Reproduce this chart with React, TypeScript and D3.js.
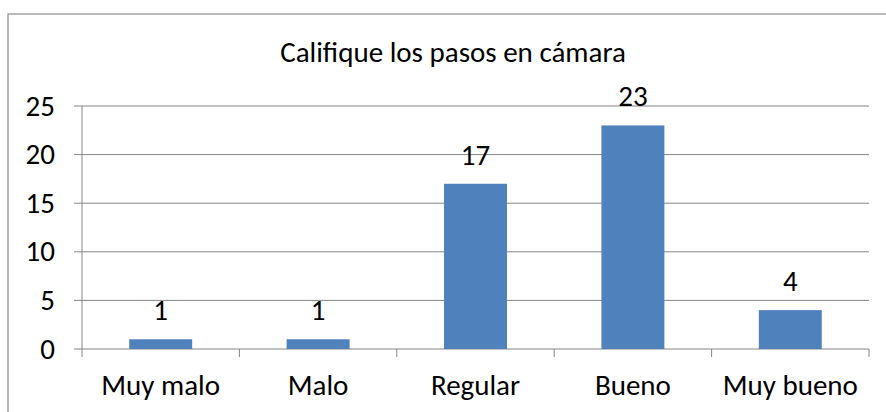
import React from "react";
import * as d3 from "d3";

const categories = ["Muy malo", "Malo", "Regular", "Bueno", "Muy bueno"];
const values = [1, 1, 17, 23, 4];
const yTicks = [0, 5, 10, 15, 20, 25];
const title = "Califique los pasos en cámara";

export default function App() {
  const W = 886, H = 412;
  const left = 82, right = 869, top = 106, bottom = 349;
  const x = d3.scaleBand<string>().domain(categories).range([left, right]).paddingInner(0.6).paddingOuter(0.3);
  const xb = d3.scaleBand<string>().domain(categories).range([left, right]);
  const y = d3.scaleLinear().domain([0, 25]).range([bottom, top]);
  const font = "Carlito, Calibri, 'Noto Sans', sans-serif";
  const fs = 29;
  const grid = "#868686";
  return (
    <svg width={W} height={H} style={{ position: "absolute", left: 0, top: 0, background: "#fff" }} fontFamily={font}>
      <rect x={8} y={14} width={W + 20} height={H + 20} fill="#fff" stroke="#8c8c8c" strokeWidth={1.2} />
      <text x={453} y={62} textAnchor="middle" fontSize={fs} fill="#000">{title}</text>
      {yTicks.map((t) => (
        <g key={t}>
          <line x1={74} x2={right} y1={y(t)} y2={y(t)} stroke={grid} strokeWidth={1} />
          <text x={55} y={y(t) + 9.5} textAnchor="end" fontSize={fs} fill="#000">{t}</text>
        </g>
      ))}
      <line x1={left} x2={left} y1={top} y2={bottom} stroke={grid} strokeWidth={1} />
      {categories.map((c, i) => (
        <line key={"t" + i} x1={xb(c)!} x2={xb(c)!} y1={bottom} y2={357} stroke={grid} strokeWidth={1} />
      ))}
      <line x1={right} x2={right} y1={bottom} y2={357} stroke={grid} strokeWidth={1} />
      {categories.map((c, i) => (
        <g key={c}>
          <rect x={x(c)!} y={y(values[i])} width={x.bandwidth()} height={bottom - y(values[i])} fill="#4F81BD" />
          <text x={x(c)! + x.bandwidth() / 2} y={y(values[i]) - 19} textAnchor="middle" fontSize={fs} fill="#000">{values[i]}</text>
          <text x={xb(c)! + xb.bandwidth() / 2} y={395} textAnchor="middle" fontSize={fs} fill="#000">{c}</text>
        </g>
      ))}
    </svg>
  );
}
